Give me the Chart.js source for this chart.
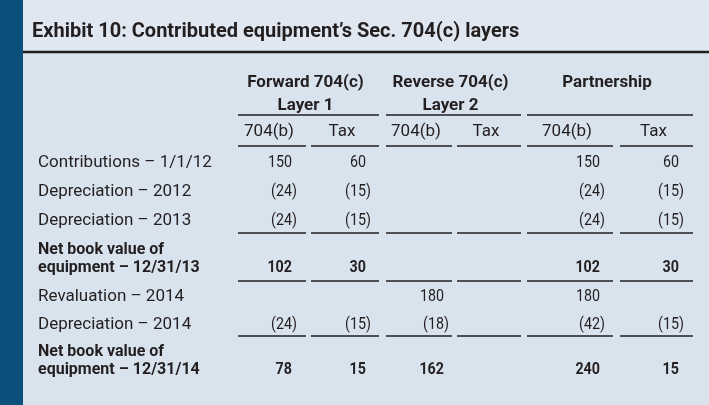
<!DOCTYPE html>
<html>
<head>
<meta charset="utf-8">
<script src="https://cdn.jsdelivr.net/npm/chart.js@4.4.1/dist/chart.umd.min.js"></script>
<style>
  html, body { margin: 0; padding: 0; }
  body { width: 709px; height: 405px; background: #d9e3ee; position: relative; overflow: hidden; }
  #band { position: absolute; left: 0; top: 0; width: 709px; height: 51px; background: #e0e7f0; }
  #bar  { position: absolute; left: 0; top: 0; width: 23px; height: 405px; background: #0b4f7c; }
  #exhibit { position: absolute; left: 0; top: 0; }
</style>
</head>
<body>
<div id="band"></div>
<div id="bar"></div>
<canvas id="exhibit" width="709" height="405"></canvas>
<script>
// exhibit table — Sec. 704(c) layers, drawn on Chart.js scales

const titleText    = "Exhibit 10: Contributed equipment’s Sec. 704(c) layers";
const groupHeaders = [["Forward 704(c)", "Layer 1"], ["Reverse 704(c)", "Layer 2"], ["Partnership"]];
const subHeaders   = ["704(b)", "Tax", "704(b)", "Tax", "704(b)", "Tax"];
const rowLabels    = [
    "Contributions – 1/1/12",
    "Depreciation – 2012",
    "Depreciation – 2013",
    ["Net book value of", "equipment – 12/31/13"],
    "Revaluation – 2014",
    "Depreciation – 2014",
    ["Net book value of", "equipment – 12/31/14"],
];

// one list per column, one entry per row (null = blank cell)
const forward704b  = [150, -24, -24, 102, null, -24,  78];
const forwardTax   = [ 60, -15, -15,  30, null, -15,  15];
const reverse704b  = [null, null, null, null, 180, -18, 162];
const reverseTax   = [null, null, null, null, null, null, null];
const partner704b  = [150, -24, -24, 102, 180, -42, 240];
const partnerTax   = [ 60, -15, -15,  30, null, -15,  15];
const columns      = [forward704b, forwardTax, reverse704b, reverseTax, partner704b, partnerTax];

const totalRows    = [3, 6];     // bold rows
const ruledRows    = [2, 3, 5];  // rule under these rows

// ---- layout (scale units, not data) ----
const FONT       = "Roboto, 'Liberation Sans', sans-serif";
const INK        = "#231f20";
const colSpans   = [[0, 68], [73, 141], [148, 214], [219, 283], [289, 375], [382, 455]];
const groupCols  = [[0, 1], [2, 3], [4, 5]];
const numAnchor  = [54, 128, 206, 270, 362, 441];
const subLabelX  = colSpans.map(s => (s[0] + s[1]) / 2 - 3);
const rowHeights = [30, 28, 29, 48, 28, 27, 45];
const NUM_SQUEEZE = 0.84;

const rowBounds  = [0];
rowHeights.forEach(h => rowBounds.push(rowBounds[rowBounds.length - 1] + h));
const rowCenters = rowHeights.map((h, i) => rowBounds[i] + h / 2);
const tableDepth = rowBounds[rowBounds.length - 1];

function fmt(v) {
    return v < 0 ? "(" + Math.abs(v) + ")" : String(v);
}

function hline(ctx, x0, x1, y, w) {
    ctx.beginPath();
    ctx.lineWidth = w;
    ctx.moveTo(x0, y);
    ctx.lineTo(x1, y);
    ctx.stroke();
}

// figures squeezed horizontally to get the narrow digits of the original face
function squeezed(ctx, text, x, y, sx) {
    ctx.save();
    ctx.translate(x, y);
    ctx.scale(sx, 1);
    ctx.fillText(text, 0, 0);
    ctx.restore();
}

const tablePlugin = {
    id: "tableText",
    afterDraw(chart) {
        const ctx = chart.ctx;
        const xs  = chart.scales.x;
        const ys  = chart.scales.y;
        const top = chart.chartArea.top;

        ctx.save();
        ctx.fillStyle   = INK;
        ctx.strokeStyle = "#1f1f1f";

        // title + heavy rule
        ctx.font         = "bold 20px " + FONT;
        ctx.textAlign    = "left";
        ctx.textBaseline = "alphabetic";
        ctx.fillText(titleText, 32, 37);
        hline(ctx, 23, chart.width, 52, 2.5);

        // group headers with their rules
        ctx.font      = "bold 17px " + FONT;
        ctx.textAlign = "center";
        groupCols.forEach((g, gi) => {
            const x0 = xs.getPixelForValue(colSpans[g[0]][0]);
            const x1 = xs.getPixelForValue(colSpans[g[1]][1]);
            const cx = (x0 + x1) / 2 - 3;
            groupHeaders[gi].forEach((line, li) => ctx.fillText(line, cx, xs.top + 17 + li * 23));
            hline(ctx, x0, x1, xs.top + 45, 1.5);
        });

        // rules under sub headers
        colSpans.forEach(s => hline(ctx, xs.getPixelForValue(s[0]), xs.getPixelForValue(s[1]), top - 2, 1.5));

        // cell values
        ctx.textBaseline = "middle";
        ctx.textAlign    = "right";
        columns.forEach((col, ci) => {
            col.forEach((v, ri) => {
                if (v === null) return;
                ctx.font = (totalRows.includes(ri) ? "bold " : "") + "17px " + FONT;
                const twoLine = Array.isArray(rowLabels[ri]);
                const y = ys.getPixelForValue(rowCenters[ri]) + (twoLine ? 9 : 0);
                let x = xs.getPixelForValue(numAnchor[ci]);
                if (v < 0) x += ctx.measureText(")").width * NUM_SQUEEZE;
                squeezed(ctx, fmt(v), x, y, NUM_SQUEEZE);
            });
        });

        // rules under selected rows
        ruledRows.forEach(r => {
            const y = ys.getPixelForValue(rowBounds[r + 1]) - 2;
            colSpans.forEach(s => hline(ctx, xs.getPixelForValue(s[0]), xs.getPixelForValue(s[1]), y, 1.5));
        });

        ctx.restore();
    }
};

new Chart(document.getElementById("exhibit"), {
    type: "scatter",
    data: { datasets: [] },
    options: {
        responsive: false,
        animation:  false,
        events:     [],
        layout: { padding: { left: 38, right: 16, top: 70, bottom: 405 - 148 - tableDepth } },
        plugins: {
            legend:  { display: false },
            tooltip: { enabled: false },
            title:   { display: false },
        },
        scales: {
            x: {
                type: "linear", position: "top", min: 0, max: 455,
                grid:   { display: false, drawTicks: false },
                border: { display: false },
                afterBuildTicks: s => { s.ticks = subLabelX.map(v => ({ value: v })); },
                afterFit:        s => { s.height = 78; },
                ticks: {
                    autoSkip: false, maxRotation: 0, minRotation: 0, padding: 7,
                    color: INK,
                    font: { family: FONT, size: 17, lineHeight: 18 / 17 },
                    callback: (v, i) => subHeaders[i],
                },
            },
            y: {
                type: "linear", reverse: true, min: 0, max: tableDepth,
                grid:   { display: false, drawTicks: false },
                border: { display: false },
                afterBuildTicks: s => { s.ticks = rowCenters.map(v => ({ value: v })); },
                afterFit:        s => { s.width = 200; },
                ticks: {
                    autoSkip: false, crossAlign: "far", padding: 0,
                    color: INK,
                    font: c => totalRows.includes(c.index)
                        ? { family: FONT, size: 16, lineHeight: 18 / 16, weight: "bold" }
                        : { family: FONT, size: 17, lineHeight: 18 / 17, weight: "normal" },
                    callback: (v, i) => rowLabels[i],
                },
            },
        },
    },
    plugins: [tablePlugin],
});
</script>
</body>
</html>
